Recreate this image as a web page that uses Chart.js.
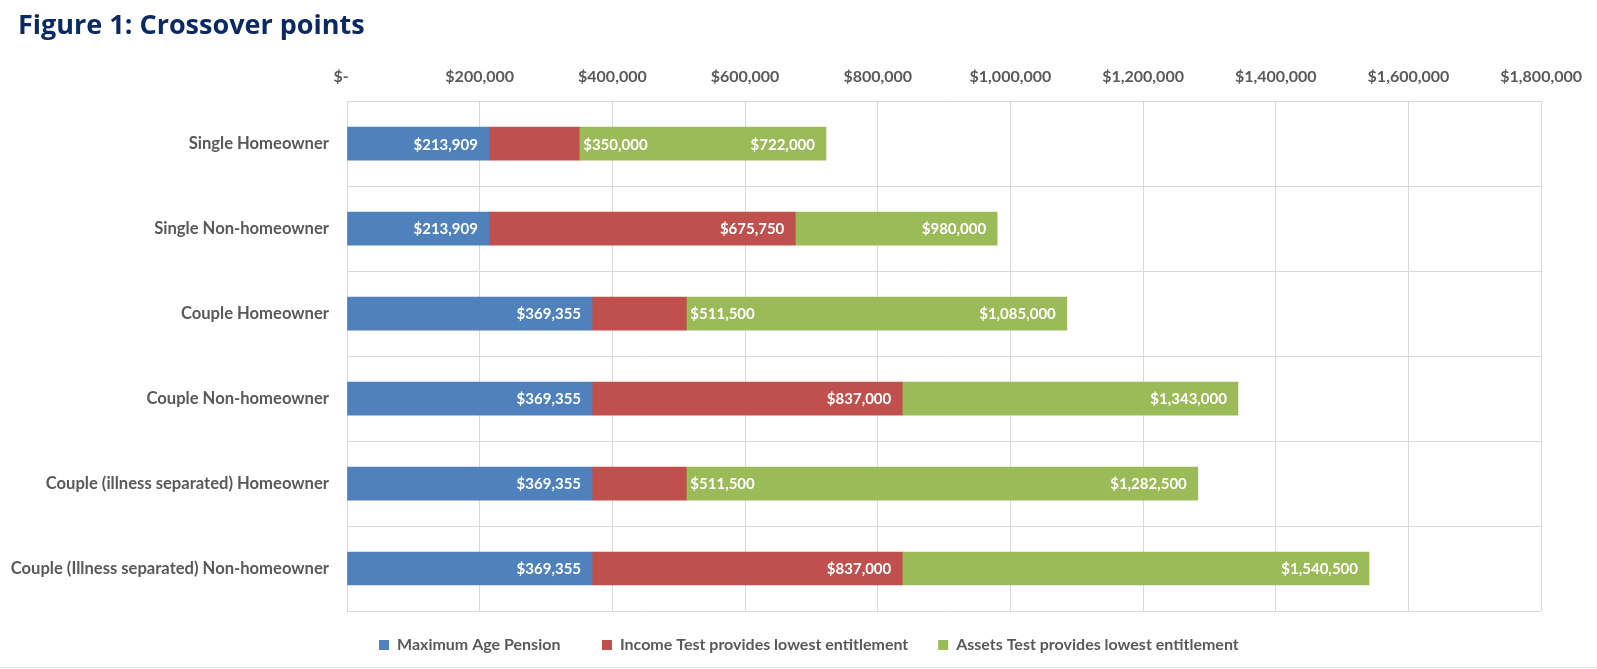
<!DOCTYPE html>
<html>
<head>
<meta charset="utf-8">
<script src="https://cdn.jsdelivr.net/npm/chart.js@4.4.1/dist/chart.umd.min.js"></script>
<style>
  html, body { margin: 0; padding: 0; background: #ffffff; }
  #wrap { position: relative; width: 1597px; height: 669px; }
  #wrap canvas { position: absolute; left: 0; top: 0; }
  #figTitle {
    position: absolute; left: 18px; top: 8px; margin: 0;
    font: bold 27px/32px "Open Sans", Lato, sans-serif;
    color: #0b2a63; z-index: 1;
  }
</style>
</head>
<body>
<div id="wrap">
  <h1 id="figTitle">Figure 1: Crossover points</h1>
  <canvas id="crossoverChart"></canvas>
</div>
<script>
// categories (top to bottom)
const categories = [
  'Single Homeowner',
  'Single Non-homeowner',
  'Couple Homeowner',
  'Couple Non-homeowner',
  'Couple (illness separated) Homeowner',
  'Couple (Illness separated) Non-homeowner',
];

// cumulative crossover points, as labelled on the bars
const maxPensionPoint = [213909, 213909, 369355, 369355, 369355, 369355];
const incomeTestPoint = [350000, 675750, 511500, 837000, 511500, 837000];
const assetsTestPoint = [722000, 980000, 1085000, 1343000, 1282500, 1540500];

const seriesNames = [
  'Maximum Age Pension',
  'Income Test provides lowest entitlement',
  'Assets Test provides lowest entitlement',
];

const xTickMax = 1800000;
const xTickStep = 200000;

const FONT = 'Lato, "Noto Sans", sans-serif';
const GRID = '#d9d9d9';

function money(v) {
  // accounting style: zero shows as "$ -" sitting a little left of the tick
  if (v === 0) return '$-   ';
  return '$' + v.toLocaleString('en-US');
}

// stacked segment widths built from the cumulative points
const blueSeg = maxPensionPoint.slice();
const redSeg = incomeTestPoint.map((v, i) => v - maxPensionPoint[i]);
const greenSeg = assetsTestPoint.map((v, i) => v - incomeTestPoint[i]);
const cumulative = [maxPensionPoint, incomeTestPoint, assetsTestPoint];

// draws the cumulative value at the end of each segment
const segmentLabels = {
  id: 'segmentLabels',
  afterDatasetsDraw(chart) {
    const { ctx } = chart;
    ctx.save();
    ctx.font = 'bold 15px ' + FONT;
    ctx.fillStyle = '#ffffff';
    ctx.textBaseline = 'middle';
    chart.data.datasets.forEach((ds, di) => {
      const meta = chart.getDatasetMeta(di);
      meta.data.forEach((bar, i) => {
        const text = money(cumulative[di][i]);
        const w = ctx.measureText(text).width;
        if (bar.x - bar.base < w + 40) {
          // too narrow: put it just after the end, inside the next segment
          ctx.textAlign = 'left';
          ctx.fillText(text, bar.x + 4, bar.y + 1);
        } else {
          ctx.textAlign = 'right';
          ctx.fillText(text, bar.x - 11, bar.y + 1);
        }
      });
    });
    ctx.restore();
  },
};

// legend sits a bit right of the canvas centre in the original
const legendShift = {
  id: 'legendShift',
  afterLayout(chart) {
    const lg = chart.legend;
    if (!lg || !lg.lineWidths) return;
    const pad = lg.options.labels.padding;
    const startX = (lg.left + pad + lg.right - lg.lineWidths[0]) / 2;
    const d = 379 - startX;
    lg.left += d;
    lg.right += d;
  },
};

// thin rule under the legend
const bottomRule = {
  id: 'bottomRule',
  afterDraw(chart) {
    const { ctx, width } = chart;
    ctx.save();
    ctx.strokeStyle = '#e4e4e4';
    ctx.lineWidth = 1;
    ctx.beginPath();
    ctx.moveTo(0, 667.5);
    ctx.lineTo(width, 667.5);
    ctx.stroke();
    ctx.restore();
  },
};

const legendGaps = ['    ', ' ', ''];

const config = {
  type: 'bar',
  data: {
    labels: categories,
    datasets: [
      { label: seriesNames[0], data: blueSeg, backgroundColor: '#4f81bd' },
      { label: seriesNames[1], data: redSeg, backgroundColor: '#c0504d' },
      { label: seriesNames[2], data: greenSeg, backgroundColor: '#9bbb59' },
    ],
  },
  options: {
    indexAxis: 'y',
    responsive: true,
    maintainAspectRatio: false,
    animation: false,
    datasets: {
      bar: { barThickness: 33, borderWidth: 0 },
    },
    layout: {
      padding: { left: 0, right: 40, top: 52, bottom: 6 },
    },
    scales: {
      x: {
        position: 'top',
        stacked: true,
        min: 0,
        max: xTickMax,
        ticks: {
          stepSize: xTickStep,
          color: '#595959',
          font: { family: FONT, size: 16, weight: 'bold' },
          padding: 15,
          callback: v => money(v),
        },
        grid: { color: GRID, drawTicks: false },
        border: { color: GRID },
      },
      y: {
        stacked: true,
        afterFit: axis => { axis.width = 347; },
        ticks: {
          color: '#595959',
          font: { family: FONT, size: 16.6, weight: 'bold' },
          padding: 18,
        },
        grid: { color: GRID, drawTicks: false, offset: true },
        border: { color: GRID },
      },
    },
    plugins: {
      title: { display: false },
      legend: {
        position: 'bottom',
        labels: {
          boxWidth: 10,
          boxHeight: 10,
          padding: 26,
          color: '#595959',
          font: { family: FONT, size: 16, weight: 'bold' },
          generateLabels: chart => {
            const items = Chart.defaults.plugins.legend.labels.generateLabels(chart);
            // widen the gaps between entries without changing the vertical padding
            items.forEach((it, i) => { it.text += legendGaps[i] || ''; });
            return items;
          },
        },
      },
      tooltip: { enabled: false },
    },
  },
  plugins: [segmentLabels, legendShift, bottomRule],
};

new Chart('crossoverChart', config);
</script>
</body>
</html>
